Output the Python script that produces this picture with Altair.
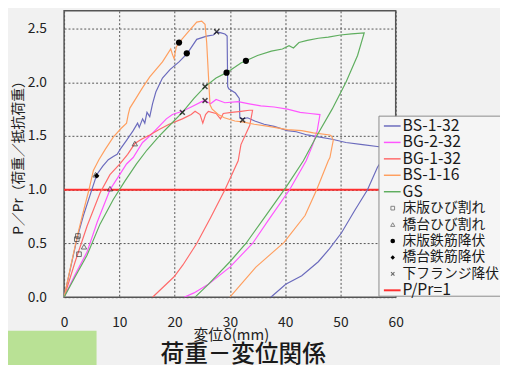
import altair as alt
import pandas as pd

FONT = "Noto Sans CJK JP"

series_names = ["BS-1-32", "BG-2-32", "BG-1-32", "BS-1-16", "GS"]
series_colors = ["#6b6bbd", "#ff55ff", "#ff6b6b", "#ff9f5f", "#5fae5f"]

bs132_x = [0, 1.2, 2.4, 3.5, 4.7, 5.9, 7.0, 8.0, 8.9, 9.6, 10.2, 11.3, 12.5, 13.3, 13.6, 14.2, 14.6,
           15.0, 15.5, 16.0, 16.6, 17.8, 19.2, 20.8, 22.3, 24.0, 25.8, 27.0, 27.6, 28.4, 29.1, 29.5,
           29.6, 29.8, 31.0, 31.7, 31.8, 32.3, 33.2, 34.5, 36.2, 38.0, 40.4, 42.0, 44.0, 46.3, 48.5,
           51.0, 54.0, 57.0, 58.5, 57.6, 56.7, 54.9, 52.5, 50.2, 48.0, 46.0, 43.0, 40.1, 37.4]
bs132_y = [0, 0.28, 0.56, 0.76, 0.95, 1.14, 1.22, 1.28, 1.31, 1.33, 1.38, 1.46, 1.55, 1.62, 1.58, 1.66,
           1.62, 1.72, 1.68, 1.80, 1.91, 2.04, 2.12, 2.19, 2.27, 2.40, 2.43, 2.44, 2.47, 2.46, 2.45, 2.43,
           1.96, 1.94, 1.90, 1.85, 1.67, 1.66, 1.67, 1.64, 1.61, 1.59, 1.55, 1.54, 1.51, 1.49, 1.47,
           1.44, 1.42, 1.40, 1.38, 1.28, 1.21, 1.00, 0.80, 0.60, 0.45, 0.33, 0.20, 0.12, 0.0]

bg232_x = [0, 2.0, 4.15, 6.0, 8.3, 9.8, 11.3, 12.5, 14.2, 15.5, 17.2, 18.5, 19.6, 21.4, 23.0, 24.9,
           25.5, 26.5, 27.5, 29.1, 31.5, 33.5, 35.6, 38.0, 40.4, 42.7, 44.5, 46.3, 45.8, 45.0, 43.8,
           40.8, 37.0, 34.1, 30.0, 26.1, 23.5, 21.7]
bg232_y = [0, 0.21, 0.42, 0.70, 1.00, 1.12, 1.24, 1.30, 1.44, 1.50, 1.59, 1.66, 1.70, 1.73, 1.77, 1.82,
           1.83, 1.80, 1.84, 1.81, 1.82, 1.80, 1.78, 1.77, 1.75, 1.72, 1.71, 1.70, 1.55, 1.42, 1.27,
           1.00, 0.72, 0.50, 0.28, 0.12, 0.04, 0.0]

bg132_x = [0, 2.0, 4.15, 6.5, 8.3, 10.1, 11.5, 12.8, 14.0, 15.5, 17.2, 19.0, 21.4, 23.0, 23.7, 24.6,
           25.1, 25.6, 26.1, 27.5, 28.3, 28.8, 30.3, 32.0, 33.5, 34.1, 33.6, 32.0, 31.5, 29.1, 26.5,
           24.0, 21.5, 19.9, 16.0]
bg132_y = [0, 0.33, 0.66, 0.97, 1.14, 1.24, 1.33, 1.43, 1.47, 1.51, 1.56, 1.61, 1.66, 1.70, 1.73, 1.70,
           1.62, 1.70, 1.73, 1.71, 1.66, 1.71, 1.72, 1.73, 1.74, 1.74, 1.60, 1.42, 1.27, 1.00, 0.74,
           0.50, 0.30, 0.19, 0.0]

bs116_x = [0, 1.2, 2.4, 3.5, 4.5, 5.3, 6.3, 7.5, 8.9, 10.3, 11.3, 11.6, 11.9, 13.0, 14.2, 15.5, 17.8,
           19.3, 19.6, 19.9, 20.3, 20.8, 22.3, 24.0, 24.9, 25.5, 25.8, 26.4, 26.8, 27.9, 29.0, 30.9,
           32.5, 34.4, 37.0, 40.4, 43.0, 45.1, 48.1, 48.4, 48.7, 48.1, 47.8, 45.7, 43.6, 39.8, 34.7, 30.0]
bs116_y = [0, 0.29, 0.57, 0.80, 1.00, 1.18, 1.28, 1.38, 1.49, 1.57, 1.62, 1.70, 1.76, 1.85, 1.95, 2.05,
           2.19, 2.31, 2.26, 2.22, 2.33, 2.37, 2.46, 2.56, 2.57, 2.54, 2.37, 1.79, 1.75, 1.70, 1.67,
           1.64, 1.63, 1.61, 1.59, 1.56, 1.55, 1.53, 1.51, 1.50, 1.46, 1.30, 1.27, 1.00, 0.76, 0.51,
           0.28, 0.0]

gs_x = [0, 2.0, 4.15, 6.5, 8.9, 11.0, 13.1, 15.0, 17.2, 19.3, 21.4, 23.5, 25.5, 27.5, 29.4, 32.0, 32.9,
        35.0, 37.5, 39.5, 40.7, 41.5, 42.5, 44.0, 46.0, 47.8, 50.0, 52.0, 54.3, 53.1, 51.0, 48.5, 45.7,
        43.3, 40.1, 36.5, 32.9, 30.0, 26.1, 23.7]
gs_y = [0, 0.19, 0.39, 0.68, 0.91, 1.08, 1.24, 1.37, 1.50, 1.61, 1.72, 1.85, 1.96, 2.04, 2.09, 2.18, 2.20,
        2.25, 2.29, 2.31, 2.34, 2.32, 2.37, 2.39, 2.41, 2.42, 2.44, 2.45, 2.46, 2.25, 2.00, 1.75, 1.50,
        1.27, 1.02, 0.76, 0.50, 0.33, 0.12, 0.0]

marker_names = ["床版ひび割れ", "橋台ひび割れ", "床版鉄筋降伏", "橋台鉄筋降伏", "下フランジ降伏"]
crack_slab_x = [2.3, 2.5, 2.7]
crack_slab_y = [0.54, 0.57, 0.40]
crack_abut_x = [3.6, 8.3, 12.8, 5.7]
crack_abut_y = [0.47, 1.01, 1.43, 1.14]
yield_slab_x = [20.8, 22.2, 29.4, 32.9]
yield_slab_y = [2.37, 2.27, 2.09, 2.20]
yield_abut_x = [5.9]
yield_abut_y = [1.13]
flange_x = [27.6, 25.5, 25.5, 21.4, 32.3]
flange_y = [2.47, 1.96, 1.83, 1.72, 1.65]

ref_label = "P/Pr=1"
ref_value = 1.0

x_ticks = [0, 10, 20, 30, 40, 50, 60]
y_ticks = [0.0, 0.5, 1.0, 1.5, 2.0, 2.5]

x_title = "変位δ(mm)"
y_title = "P／Pr（荷重／抵抗荷重）"
main_title = "荷重－変位関係"

# ---------------------------------------------------------------
W, H = 337, 291
rows = []
for name, xs, ys in [("BS-1-32", bs132_x, bs132_y), ("BG-2-32", bg232_x, bg232_y),
                     ("BG-1-32", bg132_x, bg132_y), ("BS-1-16", bs116_x, bs116_y),
                     ("GS", gs_x, gs_y)]:
    for i, (a, b) in enumerate(zip(xs, ys)):
        rows.append({"series": name, "idx": i, "x": a, "y": b})
df = pd.DataFrame(rows)

xscale = alt.Scale(domain=[0, 60], nice=False, zero=False)
yscale = alt.Scale(domain=[0, 2.665], nice=False, zero=False)

xaxis = alt.Axis(values=x_ticks, title=None, grid=True, ticks=False, domain=False,
                 labelPadding=19, labelFontSize=14, labelFont=FONT, labelColor="#222",
                 gridColor="#555", gridDash=[2, 2], gridWidth=1, labelFlush=False)
yaxis = alt.Axis(values=y_ticks, format=".1f", title=y_title, grid=True, ticks=False, domain=False,
                 labelPadding=18, labelFontSize=14, labelFont=FONT, labelColor="#222",
                 gridColor="#555", gridDash=[2, 2], gridWidth=1, labelFlush=False,
                 titleFont=FONT, titleFontSize=14, titleFontWeight="normal", titleColor="#222",
                 titleX=-46, titleBaseline="middle")

lines = alt.Chart(df).mark_line(strokeWidth=1.2, clip=True).encode(
    x=alt.X("x:Q", scale=xscale, axis=xaxis),
    y=alt.Y("y:Q", scale=yscale, axis=yaxis),
    color=alt.Color("series:N", scale=alt.Scale(domain=series_names, range=series_colors), legend=None),
    order="idx:Q",
)

ref_df = pd.DataFrame({"x": [0], "x2": [60], "y": [ref_value]})
ref_line = alt.Chart(ref_df).mark_rule(color="#ff3030", strokeWidth=2).encode(
    x=alt.X("x:Q", scale=xscale), x2="x2:Q", y=alt.Y("y:Q", scale=yscale))

def pts(xs, ys):
    return pd.DataFrame({"x": xs, "y": ys})

XSHAPE = "M-1,-1L1,1M-1,1L1,-1"
m_sq = alt.Chart(pts(crack_slab_x, crack_slab_y)).mark_point(
    shape="square", size=22, filled=False, stroke="#333", strokeWidth=1).encode(
    x=alt.X("x:Q", scale=xscale), y=alt.Y("y:Q", scale=yscale))
m_tri = alt.Chart(pts(crack_abut_x, crack_abut_y)).mark_point(
    shape="triangle-up", size=30, filled=False, stroke="#333", strokeWidth=1).encode(
    x=alt.X("x:Q", scale=xscale), y=alt.Y("y:Q", scale=yscale))
m_dot = alt.Chart(pts(yield_slab_x, yield_slab_y)).mark_point(
    shape="circle", size=40, filled=True, fill="#000", opacity=1).encode(
    x=alt.X("x:Q", scale=xscale), y=alt.Y("y:Q", scale=yscale))
m_dia = alt.Chart(pts(yield_abut_x, yield_abut_y)).mark_point(
    shape="diamond", size=30, filled=True, fill="#000", opacity=1).encode(
    x=alt.X("x:Q", scale=xscale), y=alt.Y("y:Q", scale=yscale))
m_x = alt.Chart(pts(flange_x, flange_y)).mark_point(
    shape=XSHAPE, size=25, filled=False, stroke="#000", strokeWidth=1.5).encode(
    x=alt.X("x:Q", scale=xscale), y=alt.Y("y:Q", scale=yscale))

one = pd.DataFrame({"a": [0]})

# legend (drawn manually)
LX0, LY0, LY1 = 320, 107, 290
legend_layers = [alt.Chart(one).mark_rect(fill="#f5f5f5", stroke="#8a8a8a", strokeWidth=1).encode(
    x=alt.value(LX0), x2=alt.value(460), y=alt.value(LY0), y2=alt.value(LY1))]
row_y = lambda i: 117 + i * 16.7
legend_labels = series_names + marker_names + [ref_label]
for i, lab in enumerate(legend_labels):
    fs = 14 if lab in marker_names else 16
    legend_layers.append(alt.Chart(one).mark_text(
        text=lab, align="left", baseline="middle", font=FONT, fontSize=fs, color="#1a1a1a").encode(
        x=alt.value(344), y=alt.value(row_y(i))))
for i, c in enumerate(series_colors):
    legend_layers.append(alt.Chart(one).mark_rule(color=c, strokeWidth=1.5).encode(
        x=alt.value(325), x2=alt.value(342), y=alt.value(row_y(i))))
legend_layers.append(alt.Chart(one).mark_rule(color="#ff3030", strokeWidth=2).encode(
    x=alt.value(325), x2=alt.value(342), y=alt.value(row_y(10))))
sym_specs = [
    dict(shape="square", size=14, filled=False, stroke="#555", strokeWidth=1),
    dict(shape="triangle-up", size=18, filled=False, stroke="#555", strokeWidth=1),
    dict(shape="circle", size=22, filled=True, fill="#000", opacity=1),
    dict(shape="diamond", size=20, filled=True, fill="#000", opacity=1),
    dict(shape=XSHAPE, size=12, filled=False, stroke="#333", strokeWidth=1.2),
]
for j, spec in enumerate(sym_specs):
    legend_layers.append(alt.Chart(one).mark_point(**spec).encode(
        x=alt.value(334), y=alt.value(row_y(5 + j))))

x_title_t = alt.Chart(one).mark_text(text=x_title, font=FONT, fontSize=15, color="#222",
                                     align="center", baseline="middle").encode(
    x=alt.value(170), y=alt.value(329))
main_title_t = alt.Chart(one).mark_text(text=main_title, font=FONT, fontSize=24, color="#1a1a1a",
                                        fontWeight=500, align="center", baseline="middle").encode(
    x=alt.value(182), y=alt.value(350))
deco = alt.Chart(one).mark_rect(fill="#b9e195").encode(
    x=alt.value(-57), x2=alt.value(33), y=alt.value(325), y2=alt.value(360))

chart = alt.layer(
    ref_line, lines, m_sq, m_tri, m_dot, m_dia, m_x, *legend_layers, x_title_t, main_title_t, deco
).properties(
    width=W, height=H,
    autosize=alt.AutoSizeParams(type="none"),
    padding={"left": 57, "top": 0, "right": 106, "bottom": 66},
    background="#f1f1f1",
).configure_view(
    stroke="#555", strokeWidth=1.5, fill="#f4f4f4"
)

chart.save("out.html", embed_options={"renderer": "svg", "actions": False})
